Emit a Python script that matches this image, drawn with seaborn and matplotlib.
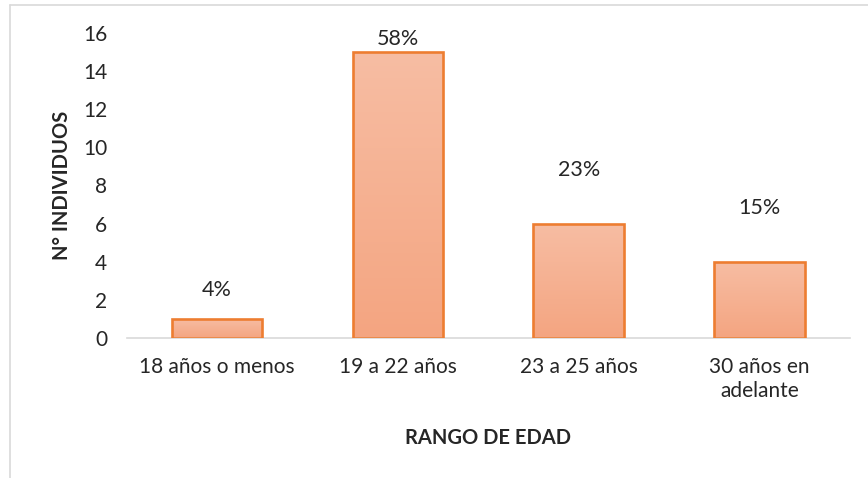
import numpy as np
import pandas as pd
import matplotlib
matplotlib.use("Agg")
import matplotlib.pyplot as plt
from matplotlib.lines import Line2D
from matplotlib.colors import LinearSegmentedColormap
import seaborn as sns

#### Data
categories = ['18 años o menos', '19 a 22 años', '23 a 25 años', '30 años en\nadelante']
counts = [1, 15, 6, 4]
pct_labels = ['4%', '58%', '23%', '15%']
label_y = [2.5, 15.7, 8.8, 6.8]
y_ticks = [0, 2, 4, 6, 8, 10, 12, 14, 16]

df = pd.DataFrame({'rango': categories, 'n': counts})

sns.set_theme(style='white')
plt.rcParams['font.family'] = ['Lato', 'DejaVu Sans']

fig = plt.figure(figsize=(8.68, 4.78), dpi=100)
ax = fig.add_axes([0.146, 0.293, 0.833, 0.638])

sns.barplot(data=df, x='rango', y='n', ax=ax, width=0.5,
            color='#F5AE8E', edgecolor='#ED7D31', linewidth=1.9, zorder=3)

# vertical gradient fill inside each bar
grad = LinearSegmentedColormap.from_list('g', ['#F4A581', '#F7BDA3'])
for p in ax.patches:
    x0, y0 = p.get_x(), p.get_y()
    w, h = p.get_width(), p.get_height()
    p.set_facecolor('none')
    im = ax.imshow(np.linspace(0, 1, 100).reshape(-1, 1), cmap=grad, origin='lower',
                   extent=[x0, x0 + w, y0, y0 + h], aspect='auto', zorder=2)
    im.set_clip_path(p)

for i, (lab, yy) in enumerate(zip(pct_labels, label_y)):
    ax.text(i, yy, lab, ha='center', va='center', fontsize=15.5, color='#262626')

ax.set_xlim(-0.5, 3.5)
ax.set_ylim(0, 16)
ax.set_yticks(y_ticks)
ax.tick_params(axis='both', length=0, labelsize=15, colors='#262626')
ax.tick_params(axis='x', pad=14)
ax.tick_params(axis='y', pad=14)

for s in ['top', 'right', 'left']:
    ax.spines[s].set_visible(False)
ax.spines['bottom'].set_color('#D9D9D9')
ax.spines['bottom'].set_linewidth(1.2)

ax.set_xlabel('RANGO DE EDAD', fontsize=14.5, fontweight='bold', color='#262626', labelpad=20)
ax.set_ylabel('N° INDIVIDUOS', fontsize=14.5, fontweight='bold', color='#262626', labelpad=8)

# chart area border (only top and left edges visible)
fig.add_artist(Line2D([10 / 868, 1], [1 - 5 / 478, 1 - 5 / 478], color='#D9D9D9', lw=1.2))
fig.add_artist(Line2D([10 / 868, 10 / 868], [0, 1 - 5 / 478], color='#D9D9D9', lw=1.2))

fig.savefig('out.png', dpi=100)
